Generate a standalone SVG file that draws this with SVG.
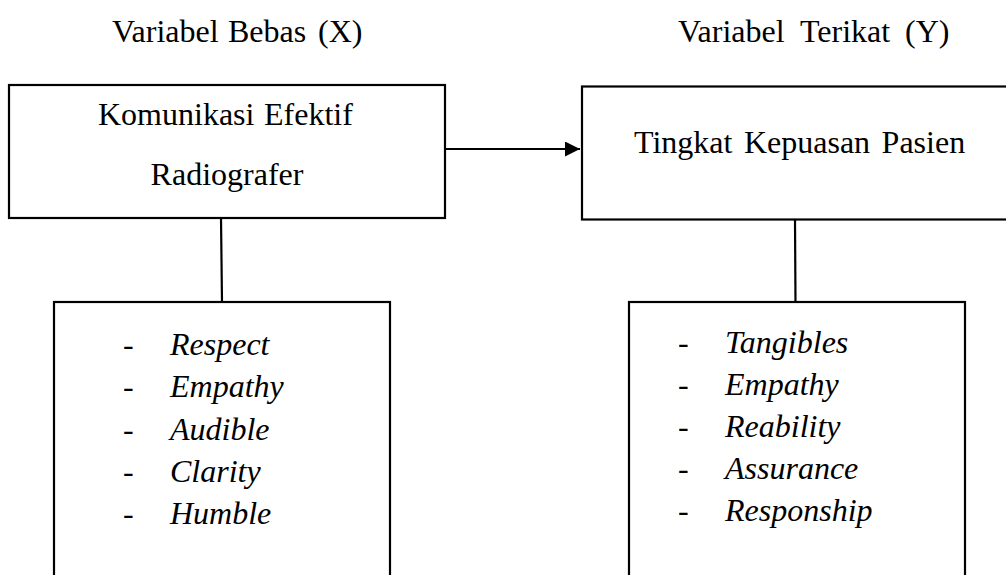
<svg xmlns="http://www.w3.org/2000/svg" width="1006" height="575" viewBox="0 0 1006 575">
  <defs>
    <style>
      .box { fill: #ffffff; stroke: #000000; stroke-width: 2.2; }
      .conn { fill: none; stroke: #000000; stroke-width: 2.2; }
      .t { font-family: "Liberation Serif", "Times New Roman", serif; font-size: 32px; fill: #000000; }
      .it { font-style: italic; }
    </style>
    <marker id="arrow" viewBox="0 0 10 10" refX="10" refY="5" markerWidth="16" markerHeight="15" markerUnits="userSpaceOnUse" orient="auto">
      <path d="M0,0 L10,5 L0,10 Z" fill="#000000"/>
    </marker>
  </defs>
  <rect width="1006" height="575" fill="#ffffff"/>

  <g id="label-x">
    <text class="t" y="42"><tspan x="112">Variabel</tspan><tspan x="228">Bebas</tspan><tspan x="318">(X)</tspan></text>
  </g>
  <g id="label-y">
    <text class="t" y="42"><tspan x="678">Variabel</tspan><tspan x="800">Terikat</tspan><tspan x="905">(Y)</tspan></text>
  </g>

  <g id="connectors">
    <line class="conn" x1="445" y1="149" x2="580" y2="149" marker-end="url(#arrow)"/>
    <line class="conn" x1="221" y1="218" x2="222" y2="302"/>
    <line class="conn" x1="795" y1="220" x2="795.5" y2="302"/>
  </g>

  <g id="node-x">
    <rect class="box" x="9" y="85" width="436" height="133"/>
    <text class="t" y="125"><tspan x="98">Komunikasi</tspan><tspan x="264">Efektif</tspan></text>
    <text class="t" x="227" y="185" text-anchor="middle">Radiografer</text>
  </g>

  <g id="node-y">
    <rect class="box" x="582" y="86.5" width="440" height="133"/>
    <text class="t" x="634" y="153" style="word-spacing:3.5px">Tingkat Kepuasan Pasien</text>
  </g>

  <g id="node-x-indicators">
    <rect class="box" x="54" y="302" width="336" height="300"/>
    <text class="t" x="123" y="355">-</text>
    <text class="t it" x="170" y="355">Respect</text>
    <text class="t" x="123" y="397">-</text>
    <text class="t it" x="170" y="397">Empathy</text>
    <text class="t" x="123" y="440">-</text>
    <text class="t it" x="170" y="440">Audible</text>
    <text class="t" x="123" y="482">-</text>
    <text class="t it" x="170" y="482">Clarity</text>
    <text class="t" x="123" y="524">-</text>
    <text class="t it" x="170" y="524">Humble</text>
  </g>

  <g id="node-y-indicators">
    <rect class="box" x="629" y="302" width="336" height="300"/>
    <text class="t" x="678" y="353">-</text>
    <text class="t it" x="725" y="353">Tangibles</text>
    <text class="t" x="678" y="395">-</text>
    <text class="t it" x="725" y="395">Empathy</text>
    <text class="t" x="678" y="437">-</text>
    <text class="t it" x="725" y="437">Reability</text>
    <text class="t" x="678" y="479">-</text>
    <text class="t it" x="725" y="479">Assurance</text>
    <text class="t" x="678" y="521">-</text>
    <text class="t it" x="725" y="521">Responship</text>
  </g>
</svg>
